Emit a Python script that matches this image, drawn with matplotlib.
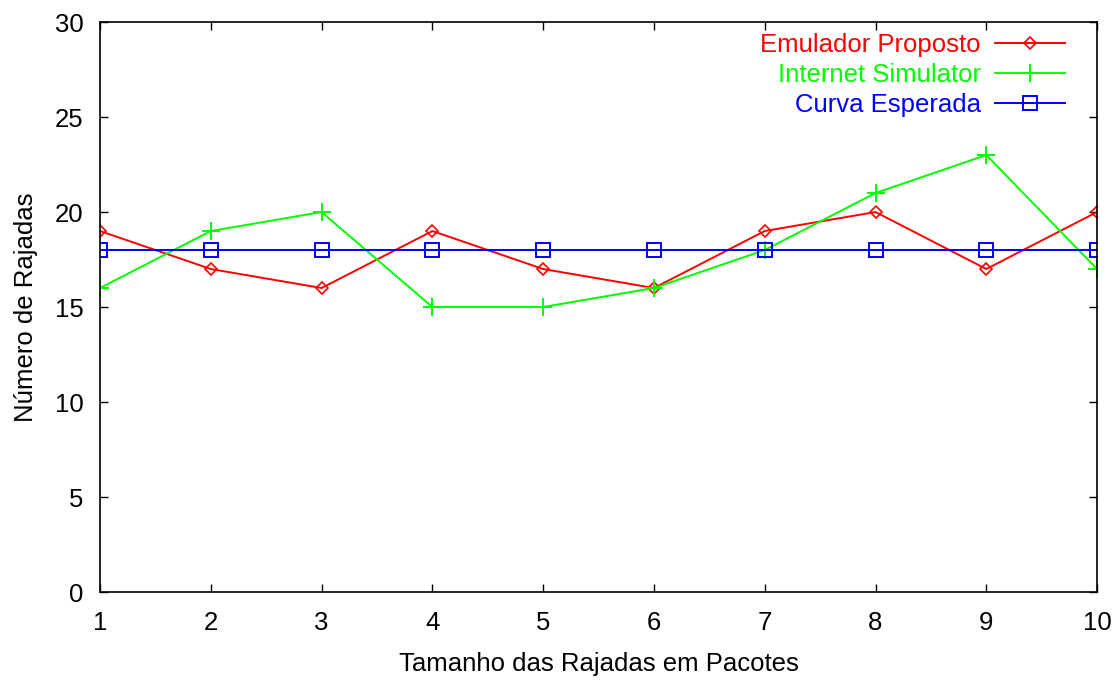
import matplotlib
matplotlib.use("Agg")
import matplotlib.pyplot as plt

plt.rcParams["font.family"] = ["Liberation Sans", "DejaVu Sans"]

# burst size (packets) and number of bursts per series
x = [1, 2, 3, 4, 5, 6, 7, 8, 9, 10]
emulador = [19, 17, 16, 19, 17, 16, 19, 20, 17, 20]
internet = [16, 19, 20, 15, 15, 16, 18, 21, 23, 17]
esperada = [18, 18, 18, 18, 18, 18, 18, 18, 18, 18]

fig = plt.figure(figsize=(11.14, 6.8), dpi=100)
ax = fig.add_axes([0.0898, 0.1294, 0.895, 0.8382])

ax.plot(x, emulador, color="#ff0000", lw=1.4, marker="D", ms=6.5, mfc="none", mew=1.2,
        label="Emulador Proposto")
ax.plot(x, internet, color="#00ff00", lw=1.4, marker="+", ms=13, mew=1.4,
        label="Internet Simulator")
ax.plot(x, esperada, color="#0000ff", lw=1.4, marker="s", ms=10, mfc="none", mew=1.4,
        label="Curva Esperada")

ax.set_xlim(1, 10)
ax.set_ylim(0, 30)
ax.set_xticks(x)
ax.set_yticks(range(0, 31, 5))
ax.tick_params(direction="in", length=6, width=1, top=True, right=True, labelsize=18.5)
ax.tick_params(axis="x", pad=14)
ax.tick_params(axis="y", pad=12)
for s in ax.spines.values():
    s.set_linewidth(1.2)

ax.set_xlabel("Tamanho das Rajadas em Pacotes", fontsize=18.5, labelpad=12)
ax.set_ylabel("Número de Rajadas", fontsize=18.5, labelpad=12)

leg = ax.legend(loc="upper right", frameon=False, markerfirst=False, fontsize=18.5,
                labelcolor="linecolor", handlelength=2.7, handletextpad=0.58,
                labelspacing=0.22, borderaxespad=0.0,
                bbox_to_anchor=(0.978, 0.998))

fig.savefig("out.png", dpi=100)
